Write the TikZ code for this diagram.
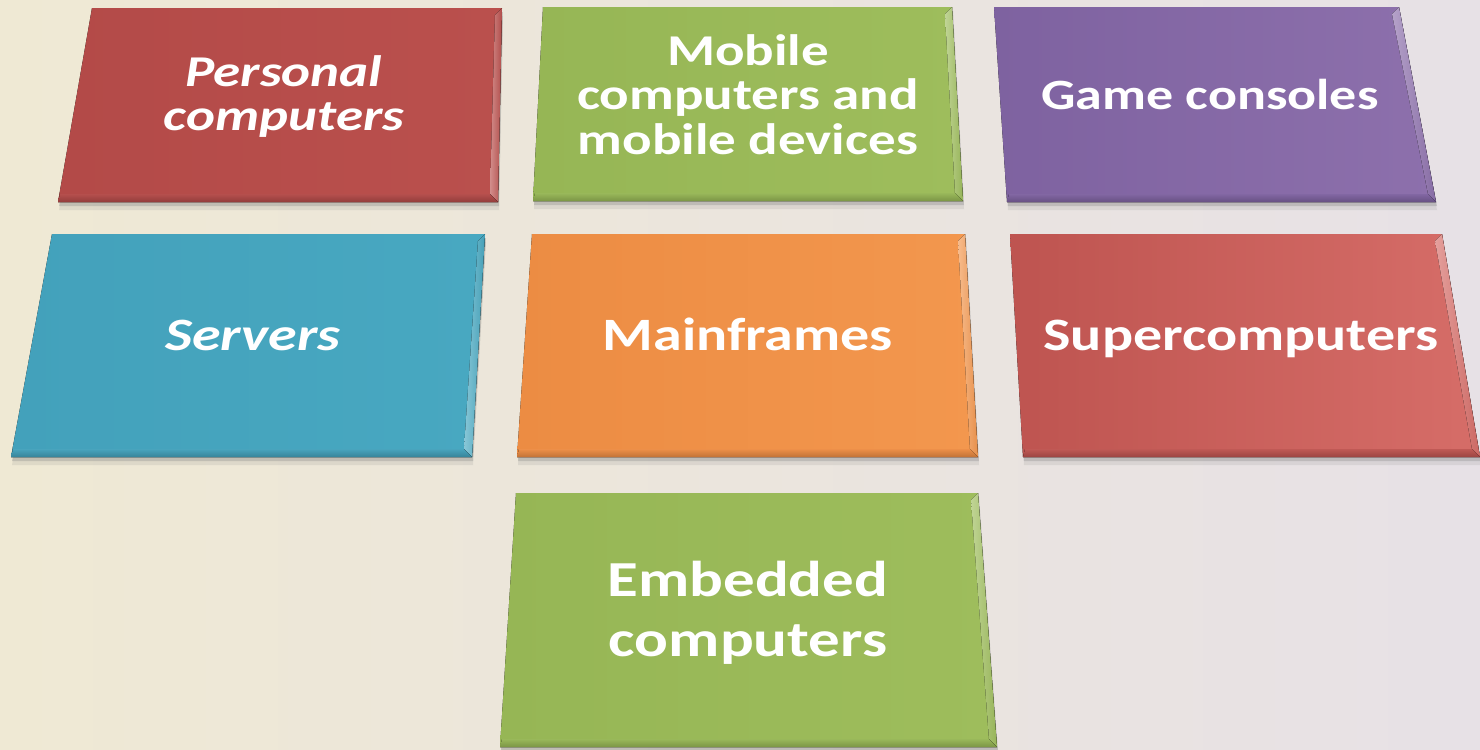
\documentclass[tikz,border=0pt]{standalone}
\usepackage{fontspec}
\setmainfont{Carlito}
\usepackage{graphicx}
\usetikzlibrary{calc,shadows}

\definecolor{bgleft}{HTML}{EFE9D4}
\definecolor{bgright}{HTML}{E7E1E6}
\definecolor{pcredA}{HTML}{B34A48}
\definecolor{pcredB}{HTML}{BA504D}
\definecolor{greenA}{HTML}{96B655}
\definecolor{greenB}{HTML}{9EBD5C}
\definecolor{purpleA}{HTML}{7E62A0}
\definecolor{purpleB}{HTML}{8D70AC}
\definecolor{aquaA}{HTML}{43A1BB}
\definecolor{aquaB}{HTML}{48A8C1}
\definecolor{orangeA}{HTML}{EC8C43}
\definecolor{orangeB}{HTML}{F3974E}
\definecolor{superA}{HTML}{BE5450}
\definecolor{superB}{HTML}{D66D68}

% text squeezed a little, as on the tilted tiles
\newcommand{\tiletext}[1]{\scalebox{1}[0.8]{\begin{tabular}{@{}c@{}}#1\end{tabular}}}

% face colours, then corners: top left, top right, bottom right, bottom left
\newcommand{\drawtile}[6]{%
  \fill[tileface, left color=#1, right color=#2] #3 -- #4 -- #5 -- #6 -- cycle;
  \fill[left color=#2!65!white, right color=#2!95!black] #4 -- #5 -- ($#5+(-8,-8)$) -- ($#4+(-7,7)$) -- cycle;
  \fill[top color=#1!97!white, bottom color=#1!82!black] #6 -- #5 -- ($#5+(-8,-8)$) -- ($#6+(2,-8)$) -- cycle;
}

\begin{document}
\begin{tikzpicture}[x=0.5pt, y=-0.5pt,
  tileface/.style = {drop shadow={shadow xshift=0.5pt, shadow yshift=-2pt, opacity=0.3},
                     drop shadow={shadow xshift=0.5pt, shadow yshift=-4pt, opacity=0.15}},
  lbl/.style 2 args = {text=white, inner sep=0pt, font={\fontsize{#1}{#2}\selectfont\bfseries}}]
  \useasboundingbox (0,0) rectangle (1480,750);
  \fill[left color=bgleft, right color=bgright] (0,0) rectangle (1480,750);

  % top row
  \drawtile{pcredA}{pcredB}{(92,8)}{(502,8)}{(498,202)}{(58,202)}
  \drawtile{greenA}{greenB}{(543,7)}{(952,7)}{(963,201)}{(533,201)}
  \drawtile{purpleA}{purpleB}{(994,7)}{(1399,7)}{(1436,202)}{(1007,202)}
  % middle row
  \drawtile{aquaA}{aquaB}{(52,234)}{(485,234)}{(472,457)}{(11,457)}
  \drawtile{orangeA}{orangeB}{(532,234)}{(965,234)}{(978,457)}{(517,457)}
  \drawtile{superA}{superB}{(1010,234)}{(1442,234)}{(1480,457)}{(1023,457)}
  % bottom
  \drawtile{greenA}{greenB}{(516,493)}{(978,493)}{(997,747)}{(500,747)}

  \node[lbl={27.5}{27.5}] (pc) at (284,100) {\itshape\tiletext{Personal\\computers}};
  \node[lbl={27.5}{28}] (mobile) at (748,101) {\tiletext{Mobile\\computers and\\mobile devices}};
  \node[lbl={27}{27}] (game) at (1210,101) {\tiletext{Game consoles}};
  \node[lbl={29}{29}] (servers) at (253,341) {\itshape\tiletext{Servers}};
  \node[lbl={29}{29}] (mainframes) at (748,341) {\tiletext{Mainframes}};
  \node[lbl={29}{29}] (super) at (1241,341) {\tiletext{Supercomputers}};
  \node[lbl={31.5}{37.5}] (embedded) at (748,614) {\tiletext{Embedded\\computers}};
\end{tikzpicture}
\end{document}
